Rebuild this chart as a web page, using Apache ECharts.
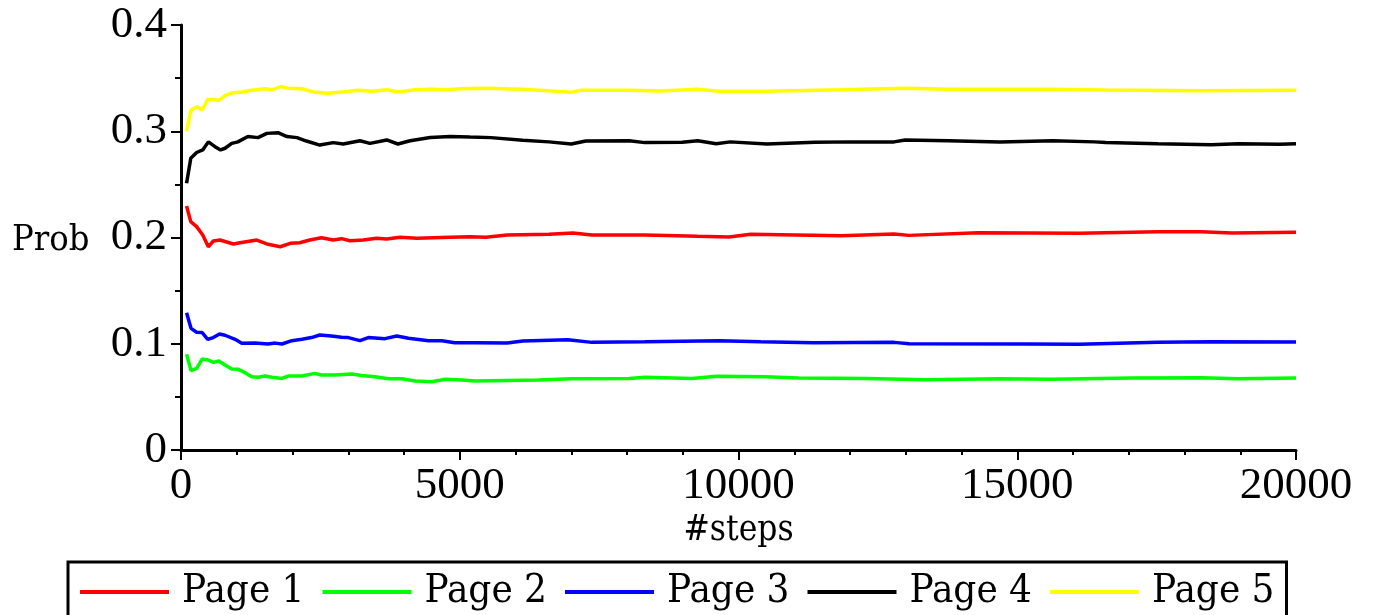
<!DOCTYPE html>
<html>
<head>
<meta charset="utf-8">
<script src="https://cdn.jsdelivr.net/npm/echarts@6/dist/echarts.min.js"></script>
<style>
    html, body { margin: 0; padding: 0; background: #fff; }
    #chart_prob { width: 1373px; height: 615px; }
</style>
</head>
<body>
<div id="chart_prob"></div>
<script>
/* datos */
const seriesNames = ['Page 1', 'Page 2', 'Page 3', 'Page 4', 'Page 5'];
const palette = ['#ff0000', '#00ff00', '#0000ff', '#000000', '#ffff00'];

const page1Steps = [100, 175, 280, 390, 490, 580, 700, 940, 1060, 1360, 1540, 1780, 1960, 2130, 2310, 2520, 2730, 2880, 3030, 3270, 3510, 3690, 3930, 4230, 4830, 5180, 5470, 5850, 6600, 7030, 7370, 8320, 9270, 9830, 10220, 11840, 12790, 13060, 14300, 16110, 17520, 18300, 18850, 20000];
const page1Prob = [0.2296, 0.2149, 0.2102, 0.2024, 0.1913, 0.1967, 0.1976, 0.1939, 0.1951, 0.1976, 0.1939, 0.1913, 0.1945, 0.1951, 0.1976, 0.1998, 0.1976, 0.1989, 0.1970, 0.1976, 0.1992, 0.1985, 0.2002, 0.1992, 0.2002, 0.2008, 0.2002, 0.2024, 0.2030, 0.2042, 0.2024, 0.2024, 0.2011, 0.2005, 0.2030, 0.2017, 0.2033, 0.2020, 0.2045, 0.2039, 0.2055, 0.2055, 0.2042, 0.2049];

const page2Steps = [100, 180, 280, 380, 490, 580, 680, 790, 910, 1030, 1150, 1270, 1390, 1510, 1630, 1810, 1920, 2170, 2400, 2520, 2760, 3060, 3240, 3480, 3720, 3960, 4200, 4500, 4740, 5040, 5270, 6420, 7000, 8040, 8320, 9170, 9600, 10490, 11070, 12300, 13350, 14670, 15620, 17060, 18300, 18960, 20000];
const page2Prob = [0.0901, 0.0747, 0.0769, 0.0856, 0.0847, 0.0825, 0.0837, 0.0800, 0.0762, 0.0759, 0.0728, 0.0690, 0.0684, 0.0696, 0.0684, 0.0674, 0.0696, 0.0696, 0.0721, 0.0706, 0.0706, 0.0715, 0.0702, 0.0690, 0.0671, 0.0671, 0.0649, 0.0643, 0.0665, 0.0659, 0.0649, 0.0659, 0.0671, 0.0674, 0.0684, 0.0674, 0.0693, 0.0690, 0.0678, 0.0674, 0.0662, 0.0671, 0.0665, 0.0678, 0.0681, 0.0671, 0.0678];

const page3Steps = [100, 180, 280, 380, 480, 580, 690, 790, 970, 1090, 1330, 1560, 1690, 1810, 1990, 2170, 2340, 2490, 2700, 2880, 3000, 3210, 3360, 3660, 3870, 4080, 4440, 4680, 4910, 5270, 5850, 6130, 6940, 7370, 8320, 9650, 10400, 11350, 12790, 13060, 15160, 16110, 17520, 18480, 20000];
const page3Prob = [0.1292, 0.1145, 0.1108, 0.1105, 0.1042, 0.1058, 0.1092, 0.1080, 0.1042, 0.1004, 0.1006, 0.0998, 0.1006, 0.0998, 0.1029, 0.1042, 0.1058, 0.1082, 0.1073, 0.1061, 0.1058, 0.1029, 0.1058, 0.1048, 0.1073, 0.1051, 0.1029, 0.1029, 0.1010, 0.1010, 0.1007, 0.1026, 0.1038, 0.1013, 0.1019, 0.1029, 0.1019, 0.1010, 0.1013, 0.1001, 0.0998, 0.0995, 0.1013, 0.1019, 0.1016];

const page4Steps = [100, 175, 280, 390, 490, 610, 710, 790, 910, 1020, 1200, 1380, 1540, 1740, 1900, 2080, 2250, 2490, 2730, 2910, 3210, 3390, 3690, 3890, 4110, 4470, 4830, 5180, 5560, 6130, 6600, 7000, 7260, 8040, 8320, 8990, 9270, 9600, 9850, 10510, 11370, 12040, 12790, 12990, 13760, 14690, 15640, 16390, 16590, 17520, 18480, 18960, 19710, 20000];
const page4Prob = [0.2510, 0.2745, 0.2800, 0.2824, 0.2900, 0.2855, 0.2824, 0.2840, 0.2886, 0.2900, 0.2950, 0.2940, 0.2980, 0.2987, 0.2950, 0.2940, 0.2908, 0.2870, 0.2893, 0.2880, 0.2910, 0.2886, 0.2918, 0.2880, 0.2911, 0.2942, 0.2950, 0.2945, 0.2940, 0.2915, 0.2900, 0.2880, 0.2908, 0.2910, 0.2893, 0.2896, 0.2910, 0.2883, 0.2900, 0.2880, 0.2896, 0.2900, 0.2900, 0.2918, 0.2910, 0.2899, 0.2910, 0.2900, 0.2893, 0.2883, 0.2874, 0.2883, 0.2877, 0.2883];

const page5Steps = [100, 180, 290, 380, 480, 590, 680, 790, 910, 1090, 1270, 1510, 1630, 1790, 1920, 2170, 2400, 2620, 2890, 3180, 3430, 3700, 3890, 4200, 4500, 4740, 5040, 5470, 6130, 7000, 7170, 8040, 8610, 9270, 9650, 10510, 11840, 12990, 13760, 15640, 16590, 18280, 20000];
const page5Prob = [0.3000, 0.3200, 0.3230, 0.3200, 0.3300, 0.3300, 0.3290, 0.3335, 0.3360, 0.3370, 0.3385, 0.3400, 0.3390, 0.3420, 0.3405, 0.3400, 0.3366, 0.3357, 0.3370, 0.3385, 0.3376, 0.3390, 0.3370, 0.3390, 0.3395, 0.3390, 0.3400, 0.3404, 0.3395, 0.3366, 0.3385, 0.3385, 0.3379, 0.3395, 0.3376, 0.3376, 0.3390, 0.3404, 0.3395, 0.3395, 0.3388, 0.3382, 0.3385];

const allSteps = [page1Steps, page2Steps, page3Steps, page4Steps, page5Steps];
const allProb = [page1Prob, page2Prob, page3Prob, page4Prob, page5Prob];

const tickFont = '"Liberation Serif", "Times New Roman", serif';
const textFont = '"DejaVu Serif Condensed", "DejaVu Serif", serif';

window.renderChartProb = function () {
    const div = document.getElementById("chart_prob");
    if (!div) return;

    const chart = echarts.init(div, null, { renderer: 'canvas' });

    const series = seriesNames.map((name, i) => ({
        name,
        type: 'line',
        showSymbol: false,
        symbol: 'none',
        lineStyle: { color: palette[i], width: 3.5 },
        itemStyle: { color: palette[i] },
        data: allSteps[i].map((s, k) => [s, allProb[i][k]])
    }));

    const option = {
        animation: false,
        backgroundColor: '#fff',
        grid: { left: 181, right: 77, top: 25, bottom: 165 },
        legend: {
            data: seriesNames,
            left: 68,
            top: 562,
            padding: [10, 12, 12, 12],
            borderColor: '#000',
            borderWidth: 3,
            borderRadius: 0,
            icon: 'rect',
            itemWidth: 89,
            itemHeight: 4,
            itemGap: 18,
            textStyle: {
                fontFamily: textFont,
                fontSize: 40,
                color: '#000',
                padding: [20, 0, 0, 8]
            }
        },
        xAxis: {
            type: 'value',
            min: 0,
            max: 20000,
            interval: 5000,
            name: '#steps',
            nameLocation: 'middle',
            nameGap: 62,
            nameTextStyle: { fontFamily: textFont, fontSize: 35, color: '#000' },
            axisLine: { onZero: false, lineStyle: { color: '#000', width: 3 } },
            axisTick: { length: 10, lineStyle: { color: '#000', width: 2 } },
            minorTick: { show: true, splitNumber: 5, length: 5, lineStyle: { color: '#000', width: 2 } },
            axisLabel: {
                fontFamily: tickFont, fontSize: 45, color: '#000', margin: 14,
                formatter: (v) => String(v)
            },
            splitLine: { show: false }
        },
        yAxis: {
            type: 'value',
            min: 0,
            max: 0.4,
            interval: 0.1,
            axisLine: { show: true, lineStyle: { color: '#000', width: 3 } },
            axisTick: { show: true, length: 10, lineStyle: { color: '#000', width: 2 } },
            minorTick: { show: true, splitNumber: 2, length: 6, lineStyle: { color: '#000', width: 2 } },
            axisLabel: { fontFamily: tickFont, fontSize: 45, color: '#000', margin: 14 },
            splitLine: { show: false }
        },
        graphic: [{
            type: 'text',
            left: 12,
            top: 223,
            style: { text: 'Prob', font: '36px ' + textFont, fill: '#000' }
        }],
        series
    };

    chart.setOption(option);
    chart.resize();
};

window.renderChartProb();
</script>
</body>
</html>
